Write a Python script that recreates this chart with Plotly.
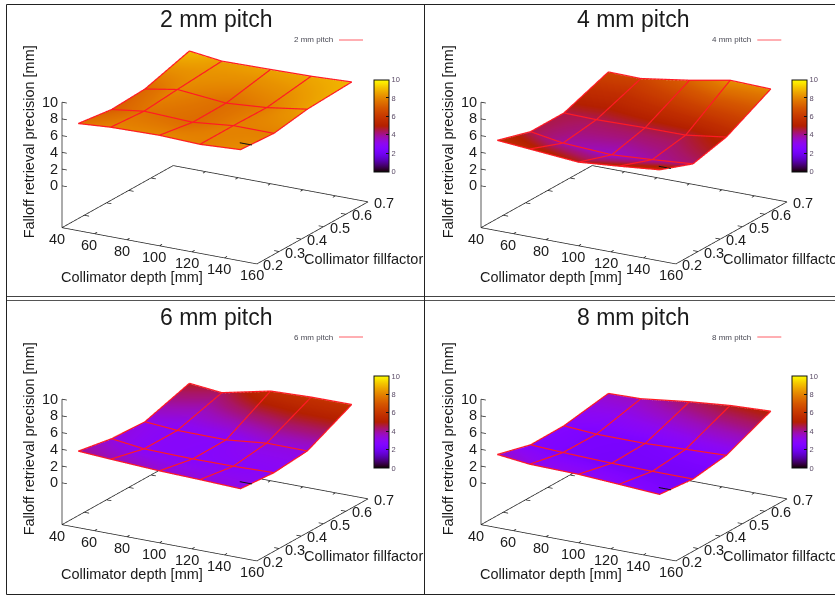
import math
import plotly.graph_objects as go

# ---- data ----
collimator_depth = [50, 70, 100, 125, 150]
collimator_fill = [0.2, 0.35, 0.5, 0.7]
z_2mm = [[7.73, 8.01, 8.13, 7.95, 8.22],
         [7.18, 7.70, 7.46, 7.96, 7.94],
         [7.40, 8.07, 7.52, 7.89, 8.60],
         [8.98, 8.49, 8.58, 8.67, 8.89]]
z_4mm = [[5.72, 5.40, 4.92, 5.34, 5.81],
         [4.53, 3.89, 3.57, 3.90, 4.29],
         [4.54, 4.46, 4.58, 4.60, 5.27],
         [6.48, 6.41, 7.29, 8.19, 8.05]]
z_6mm = [[4.07, 3.83, 3.52, 3.37, 3.19],
         [3.33, 2.84, 2.72, 2.75, 2.88],
         [3.13, 2.82, 2.77, 3.28, 3.25],
         [4.76, 4.36, 5.64, 5.82, 5.84]]
z_8mm = [[3.67, 3.23, 3.11, 2.81, 2.51],
         [2.60, 2.40, 2.20, 2.14, 2.12],
         [2.65, 2.37, 2.34, 2.55, 2.73],
         [3.55, 3.64, 4.36, 4.82, 5.04]]
panel_titles = ["2 mm pitch", "4 mm pitch", "6 mm pitch", "8 mm pitch"]
panel_values = [z_2mm, z_4mm, z_6mm, z_8mm]
stub_x = [144, 151.5]
stub_y = [0.24, 0.24]
stub_z = [8.31, 5.5, 3.3, 2.6]
x_ticks = [40, 60, 80, 100, 120, 140, 160]
y_ticks = [0.2, 0.3, 0.4, 0.5, 0.6, 0.7]
z_ticks = [0, 2, 4, 6, 8, 10]
x_title = "Collimator depth [mm]"
y_title = "Collimator fillfactor"
z_title = "Falloff retrieval precision [mm]"

# ---- style / layout ----
W, H = 835, 595
XR, YR, ZR = (40, 160), (0.2, 0.7), (-5, 10)
PAD = 0.002  # the axis range is a touch wider than the frame so lines on it are not clipped
FONT = "Liberation Sans"
TXT = "#1a1a1a"
DX, DY = 419, 297
CX, CY = 215, 151.5
SW, SH = 400, 290
EYE_D = 6.0
BOX_X, BOX_Y, BOX_Z = 1.558, 1.54, 0.918
LIFT = 0.08
phi, eps = math.radians(30), math.radians(18.8)
eye = dict(x=EYE_D * math.cos(eps) * math.sin(phi),
           y=-EYE_D * math.cos(eps) * math.cos(phi),
           z=EYE_D * math.sin(eps))


def padded(r):
    d = (r[1] - r[0]) * PAD
    return [r[0] - d, r[1] + d]


def palette(n=60):
    out = []
    for i in range(n + 1):
        t = i / n
        r = math.sqrt(t)
        g = t ** 3
        b = max(0.0, math.sin(2 * math.pi * t))
        out.append([t, f"rgb({round(r*255)},{round(g*255)},{round(b*255)})"])
    return out


def frame_lines():
    xs, ys, zs = [], [], []
    z0 = ZR[0]

    def seg(a, b):
        xs.extend([a[0], b[0], None])
        ys.extend([a[1], b[1], None])
        zs.extend([a[2], b[2], None])
    corners = [(XR[0], YR[0]), (XR[1], YR[0]), (XR[1], YR[1]), (XR[0], YR[1]), (XR[0], YR[0])]
    for p, q in zip(corners, corners[1:]):
        seg((p[0], p[1], z0), (q[0], q[1], z0))
    for t in x_ticks:
        seg((t, YR[0], z0), (t, YR[0] + 0.012, z0))
        seg((t, YR[1], z0), (t, YR[1] - 0.012, z0))
    for t in y_ticks:
        seg((XR[1], t, z0), (XR[1] - 3, t, z0))
        seg((XR[0], t, z0), (XR[0] + 3, t, z0))
    seg((XR[0], YR[0], z0), (XR[0], YR[0], z_ticks[-1]))
    for t in z_ticks:
        seg((XR[0], YR[0], t), (XR[0] + 3, YR[0], t))
    return xs, ys, zs


def mesh_lines(z):
    xs, ys, zs = [], [], []
    for j, yv in enumerate(collimator_fill):
        for i, xv in enumerate(collimator_depth):
            xs.append(xv); ys.append(yv); zs.append(z[j][i] + LIFT)
        xs.append(None); ys.append(None); zs.append(None)
    for i, xv in enumerate(collimator_depth):
        for j, yv in enumerate(collimator_fill):
            xs.append(xv); ys.append(yv); zs.append(z[j][i] + LIFT)
        xs.append(None); ys.append(None); zs.append(None)
    return xs, ys, zs


fig = go.Figure()
annots = []
shapes = []
scene_layout = {}
pal = palette()
fx, fy, fz = frame_lines()

for k, (title, z) in enumerate(zip(panel_titles, panel_values)):
    ox, oy = (k % 2) * DX, (k // 2) * DY
    name = "scene" if k == 0 else f"scene{k+1}"
    bar_left = 374 + (k % 2) * 417.7
    bar_top = 79.3 + (k // 2) * 296.4
    fig.add_trace(go.Surface(
        x=collimator_depth, y=collimator_fill, z=z, scene=name,
        colorscale=pal, cmin=0, cmax=10, hoverinfo="skip",
        lighting=dict(ambient=1, diffuse=0, specular=0, roughness=1, fresnel=0),
        colorbar=dict(
            x=bar_left / W, xanchor="left", xpad=0, ypad=0,
            y=1 - (bar_top + 46.2) / H, yanchor="middle",
            lenmode="pixels", len=92.4, thicknessmode="pixels", thickness=15,
            outlinecolor="#111", outlinewidth=1,
            tickvals=z_ticks, ticks="inside", ticklen=3, tickcolor="#111", tickwidth=1,
            tickprefix="\u00a0\u00a0\u00a0",
            tickfont=dict(family=FONT, size=7.5, color="#5a4a66"),
        ),
    ))
    mx, my, mz = mesh_lines(z)
    fig.add_trace(go.Scatter3d(x=mx, y=my, z=mz, mode="lines", scene=name, showlegend=False,
                               hoverinfo="skip", line=dict(color="#ff1a24", width=2.4)))
    fig.add_trace(go.Scatter3d(x=fx, y=fy, z=fz, mode="lines", scene=name, showlegend=False,
                               hoverinfo="skip", line=dict(color="#222222", width=1.5)))
    fig.add_trace(go.Scatter3d(x=stub_x, y=stub_y, z=[stub_z[k], stub_z[k]], mode="lines",
                               scene=name, showlegend=False, hoverinfo="skip",
                               line=dict(color="#111111", width=2)))

    sa = []
    tick_font = dict(family=FONT, size=14.5, color=TXT)
    title_font = dict(family=FONT, size=14.5, color=TXT)
    for t in x_ticks:
        sa.append(dict(x=t, y=YR[0], z=ZR[0], text=str(t), showarrow=False, font=tick_font,
                       xanchor="center", yanchor="middle", xshift=-5, yshift=-12))
    for t in y_ticks:
        sa.append(dict(x=XR[1], y=t, z=ZR[0], text=f"{t:.1f}", showarrow=False, font=tick_font,
                       xanchor="center", yanchor="middle", xshift=16, yshift=-1.5))
    for t in z_ticks:
        sa.append(dict(x=XR[0], y=YR[0], z=t, text=str(t), showarrow=False, font=tick_font,
                       xanchor="right", yanchor="middle", xshift=-2, yshift=0))
    sa.append(dict(x=100, y=YR[0], z=ZR[0], text=x_title, showarrow=False, font=title_font,
                   xanchor="center", yanchor="middle", xshift=-27.5, yshift=-32))
    sa.append(dict(x=XR[1], y=0.45, z=ZR[0], text=y_title, showarrow=False, font=title_font,
                   xanchor="center", yanchor="middle", xshift=51.5, yshift=-26.5))
    sa.append(dict(x=XR[0], y=YR[0], z=2.5, text=z_title, showarrow=False, font=title_font,
                   textangle=-90, xanchor="center", yanchor="middle", xshift=-33.5, yshift=22.5))

    scene_layout[name] = dict(
        domain=dict(x=[(CX + ox - SW / 2) / W, (CX + ox + SW / 2) / W],
                    y=[max(0, 1 - (CY + oy + SH / 2) / H), 1 - (CY + oy - SH / 2) / H]),
        xaxis=dict(visible=False, range=padded(XR)),
        yaxis=dict(visible=False, range=padded(YR)),
        zaxis=dict(visible=False, range=padded(ZR)),
        aspectmode="manual", aspectratio=dict(x=BOX_X, y=BOX_Y, z=BOX_Z),
        camera=dict(eye=eye, up=dict(x=0, y=0, z=1), center=dict(x=0, y=0, z=0),
                    projection=dict(type="orthographic")),
        annotations=sa,
        bgcolor="rgba(0,0,0,0)",
    )

    title_x = 215.5 + (k % 2) * 417.7
    title_y = 19.5 + (k // 2) * 297.5
    annots.append(dict(xref="paper", yref="paper", x=title_x / W, y=1 - title_y / H, text=title,
                       showarrow=False, xanchor="center", yanchor="middle",
                       font=dict(family=FONT, size=23, color=TXT)))
    leg_x = 335 + (k % 2) * 418.3
    leg_y = 40 + (k // 2) * 297
    annots.append(dict(xref="paper", yref="paper", x=leg_x / W, y=1 - leg_y / H, text=title,
                       showarrow=False, xanchor="right", yanchor="middle",
                       font=dict(family=FONT, size=8, color="#4a4a55")))
    shapes.append(dict(type="line", xref="paper", yref="paper",
                       x0=(leg_x + 4) / W, x1=(leg_x + 28) / W,
                       y0=1 - leg_y / H, y1=1 - leg_y / H,
                       line=dict(color="#ff5f66", width=1)))

# panel borders
for x0, y0, x1, y1, c in [(6.5, 4.5, 835, 4.5, "#222"), (6.5, 296.5, 835, 296.5, "#444"),
                          (6.5, 300.5, 835, 300.5, "#555"), (6.5, 594.5, 835, 594.5, "#222"),
                          (6.5, 4.5, 6.5, 594.5, "#222"), (424.5, 4.5, 424.5, 594.5, "#222")]:
    shapes.append(dict(type="line", xref="paper", yref="paper", x0=x0 / W, x1=x1 / W,
                       y0=1 - y0 / H, y1=1 - y1 / H, line=dict(color=c, width=1)))

fig.update_layout(width=W, height=H, autosize=False, margin=dict(l=0, r=0, t=0, b=0),
                  paper_bgcolor="white", showlegend=False, annotations=annots, shapes=shapes,
                  font=dict(family=FONT), **scene_layout)
fig.write_html("out.html", config=dict(displayModeBar=False),
               post_script="document.body.style.margin='0';")
